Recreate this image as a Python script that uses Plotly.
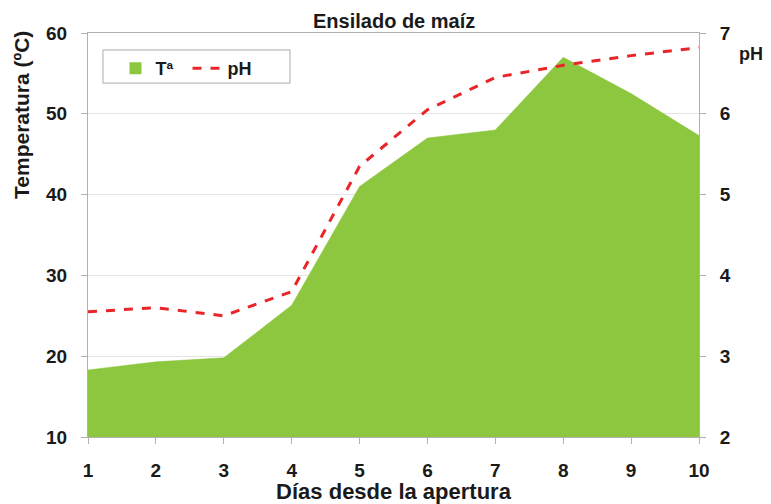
import plotly.graph_objects as go

dias = [1, 2, 3, 4, 5, 6, 7, 8, 9, 10]
temperatura = [18.3, 19.3, 19.8, 26.3, 41.0, 47.0, 48.0, 57.0, 52.5, 47.3]
ph = [3.55, 3.6, 3.5, 3.8, 5.35, 6.05, 6.45, 6.6, 6.72, 6.82]

FONT = "Liberation Sans, Arial, sans-serif"
TXT = "#1a1a1a"
AX = "#b0b0b0"
GREEN = "#8DC63F"
RED = "#E8262A"

fig = go.Figure()
fig.add_trace(go.Scatter(
    x=dias, y=temperatura, name="<b>Tª</b>", mode="lines", showlegend=False,
    fill="tozeroy", fillcolor=GREEN, line=dict(color=GREEN, width=0.5),
))
# legend entry for the area (square swatch as in the original)
fig.add_trace(go.Scatter(
    x=[None], y=[None], name="<b>Tª</b>", mode="markers",
    marker=dict(symbol="square", size=12, color=GREEN),
))
fig.add_trace(go.Scatter(
    x=dias, y=ph, name="<b>pH</b>", mode="lines", yaxis="y2",
    line=dict(color=RED, width=3, dash="dash"),
))

tickfont = dict(size=19, color=TXT, weight="bold")

fig.update_layout(
    width=763, height=496,
    margin=dict(l=80, r=72, t=25, b=67, autoexpand=False),
    paper_bgcolor="white", plot_bgcolor="white",
    font=dict(family=FONT, color=TXT),
    showlegend=True,
    legend=dict(orientation="h", x=0.045, y=0.958, xanchor="left", yanchor="top",
                borderwidth=0, bgcolor="rgba(0,0,0,0)",
                font=dict(size=18, color=TXT), itemwidth=30,
                entrywidth=27, tracegroupgap=0),
    xaxis=dict(range=[1, 10], tickvals=dias, ticks="outside", ticklen=6,
               tickcolor=AX, showline=True, linecolor=AX, mirror=True,
               showgrid=False, zeroline=False, automargin=False,
               ticklabelstandoff=10, tickfont=tickfont,
               title=dict(text="<b>Días desde la apertura</b>", standoff=6,
                          font=dict(size=22, color=TXT))),
    yaxis=dict(range=[10, 60], dtick=10, ticks="outside", ticklen=6,
               tickcolor=AX, showline=True, linecolor=AX,
               gridcolor="#e3e3e3", zeroline=False, automargin=False,
               ticklabelstandoff=10, tickfont=tickfont),
    yaxis2=dict(range=[2, 7], dtick=1, overlaying="y", side="right",
                ticks="outside", ticklen=6, tickcolor=AX, automargin=False,
                showline=True, linecolor=AX, showgrid=False, zeroline=False,
                ticklabelstandoff=10, tickfont=tickfont),
    shapes=[dict(type="rect", xref="paper", yref="paper",
                 x0=0.0245, x1=0.3306, y0=0.876, y1=0.958,
                 line=dict(color="#aaa", width=1), fillcolor="white",
                 layer="above")],
    annotations=[
        dict(text="<b>Ensilado de maíz</b>", x=0.5, xref="paper", xanchor="center",
             y=1.0297, yref="paper", yanchor="middle", showarrow=False,
             font=dict(size=20, color=TXT)),
        dict(text="<b>pH</b>", x=1.062, xref="paper", xanchor="left",
             y=0.948, yref="paper", yanchor="middle", showarrow=False,
             font=dict(size=18, color=TXT)),
        dict(text="<b>Temperatura (ºC)</b>", textangle=-90,
             x=-0.1097, xref="paper", xanchor="center",
             y=0.797, yref="paper", yanchor="middle", showarrow=False,
             font=dict(size=21, color=TXT)),
    ],
)

fig.write_html("out.html")
